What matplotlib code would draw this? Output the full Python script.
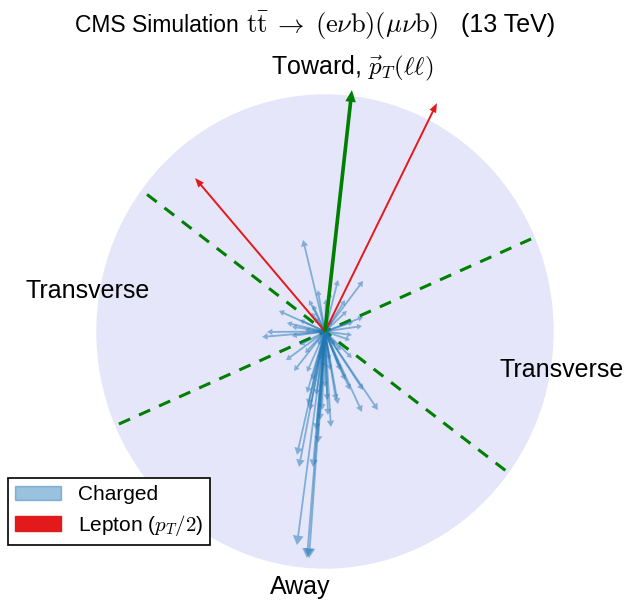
import numpy as np
import matplotlib
matplotlib.use("Agg")
import matplotlib.pyplot as plt
from matplotlib.patches import Circle, Patch

plt.rcParams['font.family'] = ['Liberation Sans', 'DejaVu Sans']
plt.rcParams['mathtext.fontset'] = 'cm'

# Charged-particle transverse momenta (px, py)
charged_px = [-9.6, 5.7, 16.7, -20.2, -27.6, -25.4, 16.2, -17.1, -13.6, -7.9,
              16.2, 23.2, 16.7, 11.8, -12.3, -7.9, -7.0, -12.3, -11.4, -5.3,
              -3.1, 2.6, 5.7, 4.8, -7.0, -16.7, 0.4, -5.3, 9.6, 12.3,
              -14.5, -8.8, -7.9, -7.5, 0.0, -0.9, 11.8, 16.7, -4.4, 3.1,
              -3.1, 4.4, -11.0, -2.2, -3.9, 1.3, -14.5, -6.0, 7.0, 2.0,
              -1.3, 0.9, -5.7, -3.9, -2.2, 2.2, 6.6, 8.8, 11.0, -6.6,
              -3.1, 2.2, 8.8, -11.0, 11.0, -8.8]
charged_py = [38.7, 21.8, 21.4, 8.7, -2.3, -0.2, 2.3, -12.1, -16.7, -26.0,
              -34.0, -33.2, -24.7, -11.2, -90.3, -95.8, -95.8, -52.2, -57.3, -57.3,
              -47.1, -40.4, -30.7, -29.0, 13.3, 3.6, 13.7, 11.2, 8.7, 4.0,
              -1.9, -9.1, -17.1, -31.1, -23.5, -15.4, -1.5, 6.1, 5.7, 4.9,
              -5.7, -5.7, -5.7, -37.4, -41.6, -35.3, 2.0, 8.0, -8.0, -12.0,
              -33.2, -29.0, -20.5, -26.8, -12.1, -16.3, -16.3, -20.5, -24.7, -33.2,
              17.5, 16.7, 13.3, 4.9, -3.6, 0.6]

# Leptons (pT/2)
lepton_px = [49.1, -57.0]
lepton_py = [96.6, 64.9]

# Dilepton pT direction (Toward)
toward_px = 11.8
toward_py = 102.1

R = 100.0
W, H = 627, 603
fig = plt.figure(figsize=(W / 100, H / 100), dpi=100)
# axes box matching the circle extent in pixels
x0, x1, y0, y1 = 97, 553, 95, 568
ax = fig.add_axes([x0 / W, 1 - y1 / H, (x1 - x0) / W, (y1 - y0) / H])
ax.set_xlim(-R, R)
ax.set_ylim(-R, R)
ax.axis('off')

ax.add_patch(Circle((0, 0), R, color='#e6e6fa', zorder=0, clip_on=False))

# region boundaries at +-60 deg from the toward direction
phi = np.arctan2(toward_py, toward_px)
for d in (np.pi / 3, -np.pi / 3):
    a = phi + d
    r = 0.985 * R
    ax.plot([-r * np.cos(a), r * np.cos(a)], [-r * np.sin(a), r * np.sin(a)],
            ls=(0, (4, 3.2)), color='green', lw=2.2, zorder=2)

for px, py in zip(charged_px, charged_py):
    L = np.hypot(px, py)
    ax.arrow(0, 0, px, py, width=0.8, head_width=2.0 + 0.03 * L,
             head_length=1.7 + 0.025 * L, length_includes_head=True,
             color='#1f77b4', alpha=0.5, lw=0, zorder=3, clip_on=False)

for px, py in zip(lepton_px, lepton_py):
    ax.arrow(0, 0, px, py, width=0.85, head_width=3.2, head_length=4.0,
             length_includes_head=True, color='#e31a1c', lw=0, zorder=4,
             clip_on=False)

ax.arrow(0, 0, toward_px, toward_py, width=1.6, head_width=4.6, head_length=5.0,
         length_includes_head=True, color='green', lw=0, zorder=5, clip_on=False)

# Texts
fig.text(75 / W, 1 - 25 / H, 'CMS Simulation', fontsize=16.5, va='center', ha='left')
fig.text(246 / W, 1 - 26 / H, r'$\mathrm{t\bar{t}} \;\rightarrow\; (\mathrm{e}\nu\mathrm{b})(\mu\nu\mathrm{b})$',
         fontsize=19, va='center', ha='left')
fig.text(555 / W, 1 - 25 / H, '(13 TeV)', fontsize=18, va='center', ha='right')
fig.text(352 / W, 1 - 68 / H, r'Toward, $\vec{p}_T(\ell\ell)$', fontsize=18,
         va='center', ha='center')
fig.text(88 / W, 1 - 291 / H, 'Transverse', fontsize=18, va='center', ha='center')
fig.text(562 / W, 1 - 370 / H, 'Transverse', fontsize=18, va='center', ha='center')
fig.text(300 / W, 1 - 587 / H, 'Away', fontsize=18, va='center', ha='center')

handles = [Patch(color='#1f77b4', alpha=0.45, label='Charged'),
           Patch(color='#e31a1c', label=r'Lepton ($p_T/2$)')]
leg = fig.legend(handles=handles, loc='lower left',
                 bbox_to_anchor=(8 / W, 1 - 545 / H), fontsize=15,
                 frameon=True, fancybox=False, edgecolor='black', framealpha=1,
                 borderaxespad=0, handlelength=2.2, handleheight=0.7,
                 labelspacing=0.4, handletextpad=0.8, borderpad=0.35)
leg.get_frame().set_linewidth(1.2)

fig.savefig('out.png', dpi=100)
